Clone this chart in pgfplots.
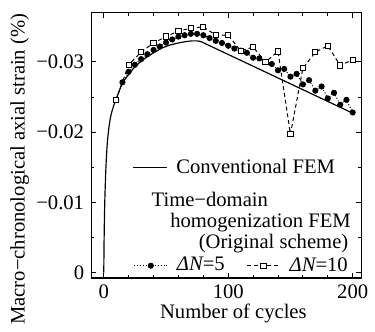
\documentclass[border=0pt]{standalone}
\usepackage{fontspec}
\setmainfont{Liberation Serif}
\usepackage{pgfplots}
\pgfplotsset{compat=1.18}
\begin{document}
\fontsize{10.5}{12.6}\selectfont
\begin{tikzpicture}
\begin{axis}[
  scale only axis, width=137.5pt, height=135pt,
  xmin=-10, xmax=207,
  y dir=reverse, ymin=-0.0370, ymax=0.00077,
  scaled y ticks=false,
  xtick={0,100,200}, minor x tick num=4,
  ytick={0,-0.01,-0.02,-0.03}, yticklabels={0,−0.01,−0.02,−0.03},
  minor y tick num=1,
  /pgf/number format/assume math mode=true,
  tick label style={font=\fontsize{10.5}{12.6}\selectfont},
  label style={font=\fontsize{10.5}{12.6}\selectfont},
  major tick length=2.5pt, minor tick length=1.5pt,
  axis line style={line width=0.7pt}, tick style={line width=0.5pt, black},
  xlabel={Number of cycles},
  ylabel={Macro−chronological axial strain (\%)},
  xlabel style={at={(rel axis cs:0.526,-0.153)}, anchor=base},
  ylabel style={at={(rel axis cs:-0.265,0.41)}, anchor=center},
  legend style={draw=none, fill=none, at={(rel axis cs:0.152,0.416)}, anchor=west, inner sep=0pt, font=\fontsize{10.5}{12.6}\selectfont, /tikz/every odd column/.append style={column sep=2.5pt}},
  legend cell align=left,
]
\addplot[black, line width=0.6pt] coordinates {
(0,0) (0.25,-0.0045) (0.5,-0.0075) (0.75,-0.0097) (1,-0.0113) (1.5,-0.0140) (2,-0.0160) (2.5,-0.0176) (3,-0.0188) (4,-0.0205) (5,-0.0217) (6,-0.0226) (8,-0.0238) (10,-0.0247) (12,-0.0257) (14,-0.0266) (17,-0.0275) (20,-0.0282) (24,-0.0291) (28,-0.0298) (33,-0.0305) (40,-0.0313) (47,-0.0320) (53,-0.0324) (60,-0.0327) (66,-0.0329) (71,-0.0330) (75,-0.0330) (78,-0.0329) (200,-0.0227)
};
\addlegendentry{Conventional FEM}
\addplot[black, densely dotted, line width=0.5pt, mark=*, mark size=1.3pt, mark options={solid}, forget plot] coordinates {
(10,-0.0246) (15,-0.0271) (20,-0.0286) (25,-0.0296) (30,-0.0304) (35,-0.0311) (40,-0.0317) (45,-0.0322) (50,-0.03275) (55,-0.0332) (60,-0.0336) (65,-0.0338) (70,-0.0340) (75,-0.0340) (80,-0.0338) (85,-0.0334) (90,-0.0330) (95,-0.0327) (100,-0.0323) (105,-0.0319) (110,-0.0316) (115,-0.0313) (120,-0.0306) (125,-0.0305) (130,-0.0300) (135,-0.0297) (140,-0.0288) (145,-0.0290) (150,-0.0279) (155,-0.0283) (160,-0.0268) (165,-0.0274) (170,-0.0259) (175,-0.0265) (180,-0.0248) (185,-0.0256) (190,-0.0239) (195,-0.0246) (200,-0.0228)
};
\addplot[black, dash pattern=on 2pt off 1.5pt, line width=0.5pt, mark=square*, mark size=1.35pt, mark options={solid, fill=white}, forget plot] coordinates {
(10,-0.0246) (20,-0.0296) (30,-0.0314) (40,-0.0327) (50,-0.0336) (60,-0.0344) (70,-0.0348) (80,-0.0350) (90,-0.0338) (100,-0.0338) (110,-0.0316) (120,-0.0321) (130,-0.0300) (140,-0.0315) (150,-0.0197) (160,-0.0291) (170,-0.0314) (180,-0.0323) (190,-0.0295) (200,-0.0303)
};
\node[anchor=north west, inner sep=0pt, align=left, font=\fontsize{10.5}{10}\selectfont] at (rel axis cs:0.222,0.323)
  {Time−domain\\[0.3pt]\hspace*{9.5pt}homogenization FEM\\[1pt]\hspace*{24pt}(Original scheme)};
\end{axis}
\begin{axis}[
  scale only axis, width=137.5pt, height=135pt,
  xmin=-10, xmax=207, ymin=0, ymax=1, hide axis,
  legend columns=2,
  legend style={draw=none, fill=none, at={(rel axis cs:0.155,0.046)}, anchor=west, inner sep=0pt, font=\fontsize{10.5}{12.6}\selectfont, /tikz/every odd column/.append style={column sep=2.5pt}, /tikz/every even column/.append style={column sep=9pt}},
  legend cell align=left,
]
\addlegendimage{black, densely dotted, line width=0.5pt, mark=*, mark size=1.3pt, mark options={solid}}
\addlegendentry{{\itshape ΔN}=5}
\addlegendimage{black, dash pattern=on 2pt off 1.5pt, line width=0.5pt, mark=square*, mark size=1.35pt, mark options={solid, fill=white}}
\addlegendentry{{\itshape ΔN}=10}
\end{axis}
\path ([shift={(-46.5pt,-27.5pt)}]current axis.south west) rectangle ([shift={(3.5pt,6.5pt)}]current axis.north east);
\end{tikzpicture}
\end{document}
